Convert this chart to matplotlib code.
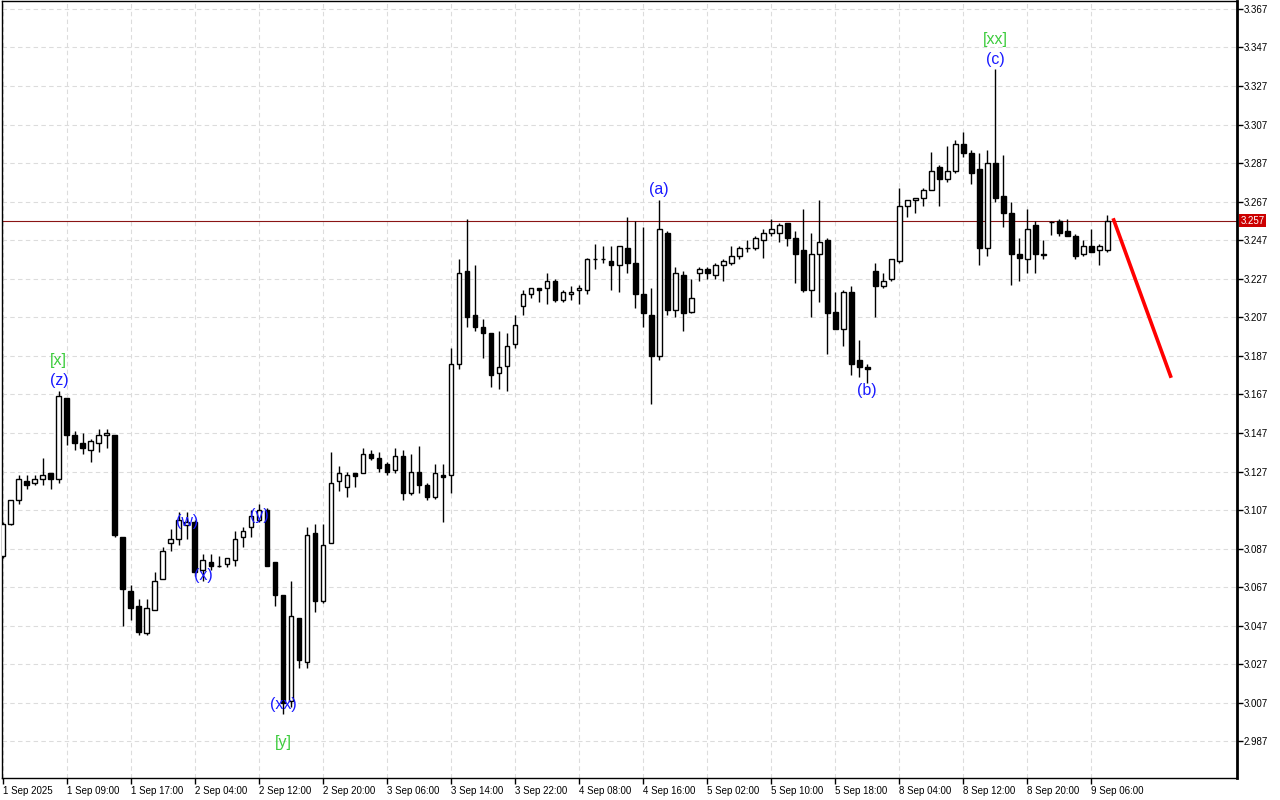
import matplotlib.pyplot as plt
import numpy as np

# Hourly candles, 1 Sep 2025 -> 9 Sep 2025
opens = [3.083, 3.100, 3.112, 3.122, 3.121, 3.123, 3.126, 3.123, 3.165, 3.146,
         3.142, 3.138, 3.142, 3.146, 3.146, 3.093, 3.065, 3.057, 3.043, 3.055,
         3.071, 3.090, 3.092, 3.099, 3.101, 3.076, 3.080, 3.078, 3.079, 3.081,
         3.093, 3.098, 3.102, 3.107, 3.080, 3.063, 3.008, 3.051, 3.028, 3.095,
         3.060, 3.090, 3.122, 3.119, 3.126, 3.126, 3.136, 3.134, 3.131, 3.128,
         3.135, 3.116, 3.127, 3.120, 3.114, 3.125, 3.125, 3.183, 3.231, 3.208,
         3.202, 3.199, 3.178, 3.182, 3.193, 3.213, 3.219, 3.222, 3.222, 3.226,
         3.216, 3.219, 3.221, 3.221, 3.237, 3.237, 3.236, 3.234, 3.243, 3.235,
         3.219, 3.208, 3.187, 3.251, 3.211, 3.229, 3.210, 3.230, 3.232, 3.229,
         3.234, 3.235, 3.239, 3.243, 3.243, 3.247, 3.251, 3.251, 3.256, 3.248,
         3.242, 3.221, 3.240, 3.247, 3.210, 3.201, 3.220, 3.185, 3.181, 3.231,
         3.223, 3.227, 3.236, 3.265, 3.268, 3.269, 3.273, 3.285, 3.279, 3.283,
         3.297, 3.292, 3.284, 3.243, 3.287, 3.270, 3.261, 3.240, 3.237, 3.255,
         3.240, 3.2565, 3.257, 3.252, 3.249, 3.240, 3.244, 3.242, 3.242]
highs = [3.101, 3.112, 3.125, 3.125, 3.125, 3.134, 3.126, 3.169, 3.165, 3.148,
         3.147, 3.144, 3.149, 3.149, 3.146, 3.093, 3.068, 3.061, 3.061, 3.075,
         3.088, 3.097, 3.106, 3.106, 3.102, 3.084, 3.084, 3.083, 3.082, 3.096,
         3.098, 3.107, 3.110, 3.108, 3.080, 3.063, 3.070, 3.051, 3.098, 3.100,
         3.100, 3.137, 3.130, 3.127, 3.126, 3.139, 3.138, 3.137, 3.132, 3.139,
         3.138, 3.136, 3.140, 3.121, 3.131, 3.131, 3.191, 3.237, 3.258, 3.234,
         3.206, 3.199, 3.200, 3.199, 3.208, 3.221, 3.222, 3.222, 3.230, 3.227,
         3.221, 3.223, 3.224, 3.238, 3.245, 3.244, 3.244, 3.244, 3.259, 3.257,
         3.254, 3.222, 3.268, 3.252, 3.233, 3.231, 3.227, 3.233, 3.233, 3.235,
         3.237, 3.244, 3.244, 3.247, 3.249, 3.253, 3.258, 3.256, 3.256, 3.252,
         3.263, 3.251, 3.268, 3.248, 3.220, 3.221, 3.223, 3.195, 3.183, 3.235,
         3.230, 3.237, 3.274, 3.268, 3.269, 3.274, 3.293, 3.286, 3.296, 3.299,
         3.303, 3.294, 3.292, 3.294, 3.336, 3.291, 3.267, 3.248, 3.263, 3.257,
         3.247, 3.257, 3.258, 3.258, 3.250, 3.247, 3.253, 3.245, 3.260]
lows = [3.082, 3.099, 3.110, 3.118, 3.120, 3.120, 3.118, 3.121, 3.141, 3.138,
        3.136, 3.132, 3.137, 3.139, 3.093, 3.047, 3.050, 3.042, 3.042, 3.055,
        3.071, 3.086, 3.089, 3.092, 3.073, 3.070, 3.076, 3.0775, 3.0775, 3.078,
        3.088, 3.093, 3.101, 3.078, 3.057, 3.001, 3.005, 3.025, 3.025, 3.054,
        3.059, 3.090, 3.117, 3.114, 3.119, 3.126, 3.133, 3.127, 3.125, 3.126,
        3.112, 3.115, 3.116, 3.112, 3.113, 3.101, 3.116, 3.180, 3.202, 3.200,
        3.186, 3.171, 3.170, 3.169, 3.191, 3.208, 3.217, 3.215, 3.214, 3.215,
        3.215, 3.216, 3.214, 3.219, 3.232, 3.235, 3.221, 3.220, 3.230, 3.212,
        3.202, 3.162, 3.185, 3.208, 3.207, 3.200, 3.209, 3.226, 3.227, 3.227,
        3.226, 3.234, 3.237, 3.241, 3.242, 3.238, 3.249, 3.246, 3.244, 3.225,
        3.220, 3.207, 3.215, 3.188, 3.201, 3.192, 3.177, 3.176, 3.173, 3.207,
        3.222, 3.226, 3.235, 3.259, 3.261, 3.265, 3.273, 3.265, 3.277, 3.282,
        3.290, 3.276, 3.234, 3.239, 3.267, 3.254, 3.224, 3.226, 3.230, 3.230,
        3.237, 3.2495, 3.249, 3.249, 3.237, 3.239, 3.241, 3.234, 3.241]
closes = [3.100, 3.112, 3.123, 3.120, 3.123, 3.125, 3.123, 3.166, 3.146, 3.142,
          3.139, 3.143, 3.146, 3.147, 3.094, 3.066, 3.056, 3.044, 3.056, 3.070,
          3.086, 3.092, 3.102, 3.101, 3.075, 3.081, 3.078, 3.078, 3.082, 3.092,
          3.096, 3.104, 3.107, 3.078, 3.063, 3.007, 3.052, 3.029, 3.094, 3.060,
          3.089, 3.121, 3.126, 3.125, 3.1246, 3.136, 3.134, 3.129, 3.127, 3.135,
          3.116, 3.127, 3.120, 3.114, 3.126, 3.124, 3.183, 3.230, 3.207, 3.202,
          3.199, 3.177, 3.181, 3.192, 3.203, 3.219, 3.222, 3.221, 3.226, 3.216,
          3.220, 3.220, 3.222, 3.237, 3.237, 3.237, 3.234, 3.244, 3.235, 3.219,
          3.209, 3.187, 3.253, 3.211, 3.230, 3.209, 3.217, 3.232, 3.230, 3.234,
          3.236, 3.239, 3.243, 3.243, 3.248, 3.251, 3.253, 3.255, 3.248, 3.240,
          3.221, 3.240, 3.246, 3.209, 3.201, 3.220, 3.183, 3.181, 3.180, 3.223,
          3.226, 3.237, 3.265, 3.268, 3.269, 3.273, 3.283, 3.279, 3.283, 3.297,
          3.292, 3.282, 3.243, 3.287, 3.269, 3.261, 3.240, 3.238, 3.253, 3.240,
          3.2395, 3.2565, 3.251, 3.249, 3.239, 3.244, 3.241, 3.244, 3.257]

tick_labels = ['1 Sep 2025', '1 Sep 09:00', '1 Sep 17:00', '2 Sep 04:00', '2 Sep 12:00',
               '2 Sep 20:00', '3 Sep 06:00', '3 Sep 14:00', '3 Sep 22:00', '4 Sep 08:00',
               '4 Sep 16:00', '5 Sep 02:00', '5 Sep 10:00', '5 Sep 18:00', '8 Sep 04:00',
               '8 Sep 12:00', '8 Sep 20:00', '9 Sep 06:00']

# wave labels: candle index, price, text, colour
wave_idx = [7, 7, 23, 25, 32, 35, 35, 82, 108, 124, 124]
wave_price = [3.1846, 3.1743, 3.1010, 3.0730, 3.1040, 3.0063, 2.9862, 3.2732, 3.1690, 3.3510, 3.3410]
wave_text = ['[x]', '(z)', '(w)', '(x)', '(y)', '(xx)', '[y]', '(a)', '(b)', '[xx]', '(c)']
wave_col = ['#3ccc3c', '#1a1aff', '#1a1aff', '#1a1aff', '#1a1aff', '#1a1aff', '#3ccc3c',
            '#1a1aff', '#1a1aff', '#3ccc3c', '#1a1aff']

last_price = 3.257
forecast_x = [138.8, 145.9]
forecast_y = [3.2575, 3.1765]

plt.rcParams['font.family'] = ['Liberation Sans', 'DejaVu Sans']

o = np.array(opens)
h = np.array(highs)
l = np.array(lows)
c = np.array(closes)
x = np.arange(len(o))

fig = plt.figure(figsize=(12.8, 8), dpi=100)
ax = fig.add_axes([2 / 1280, 22 / 800, 1235 / 1280, 777 / 800])

up = c >= o
ax.vlines(x, l, h, color='black', lw=1, zorder=2)
ax.bar(x, np.abs(c - o), bottom=np.minimum(o, c), width=0.6,
       color=np.where(up, 'white', 'black'), edgecolor='black', lw=1, zorder=3)

ax.axhline(last_price, color='#8a1515', lw=0.8, zorder=1)
ax.plot(forecast_x, forecast_y, color='#ff0000', lw=2.6, zorder=4)

for i, p, t, col in zip(wave_idx, wave_price, wave_text, wave_col):
    ax.text(i, p, t, color=col, fontsize=11.5, ha='center', va='center', zorder=5)

yt = np.round(np.arange(2.987, 3.3671, 0.02), 3)
ax.set_xlim(-0.1, 154.2)
ax.set_ylim(2.968, 3.3711)
ax.set_yticks(yt)
ax.set_yticklabels([f'{v:.3f}' for v in yt])
ax.set_xticks(np.arange(0, 8 * len(tick_labels), 8))
ax.set_xticklabels(tick_labels, ha='left')

ax.yaxis.tick_right()
ax.tick_params(axis='y', direction='out', length=4, width=1, labelsize=7, pad=1)
ax.tick_params(axis='x', direction='out', length=4, width=1, labelsize=7, pad=2)
ax.grid(True, color='#dcdcdc', ls=(0, (4, 3)), lw=0.8, zorder=0)
ax.set_axisbelow(True)
for side in ['left', 'bottom', 'top']:
    ax.spines[side].set_linewidth(1)
ax.spines['right'].set_linewidth(2)

ax.text(1.003, last_price, f'{last_price:.3f}', transform=ax.get_yaxis_transform(),
        color='white', fontsize=7, va='center', ha='left',
        bbox=dict(boxstyle='square,pad=0.15', fc='#cc0000', ec='none'), clip_on=False, zorder=6)

plt.savefig('out.png', dpi=100)
